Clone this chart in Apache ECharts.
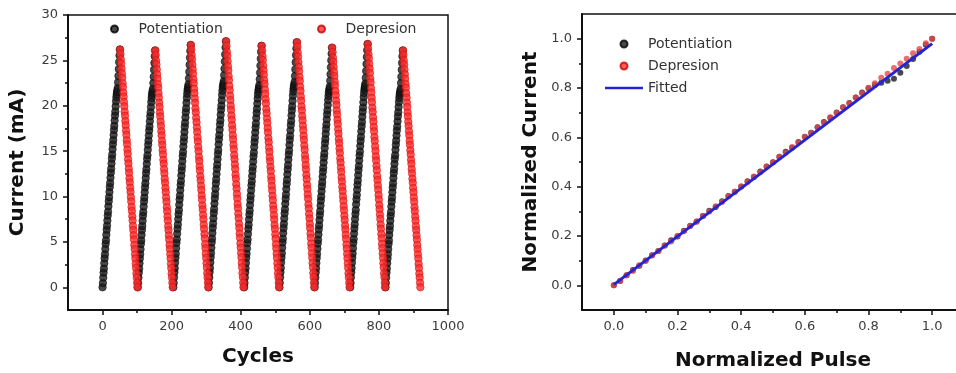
<!DOCTYPE html>
<html>
<head>
<meta charset="utf-8">
<script src="https://cdn.jsdelivr.net/npm/echarts@6/dist/echarts.min.js"></script>
<style>
  html, body { margin: 0; padding: 0; background: #fff; }
  #chart { width: 956px; height: 373px; }
</style>
</head>
<body>
<div id="chart"></div>
<script>
// first cycle of each potentiation ramp
const cycleStarts = [0, 102, 205, 307, 410, 512, 614, 717, 819];
// peak current (mA) reached in each cycle
const peakCurrent = [26.2, 26.1, 26.7, 27.1, 26.6, 27.0, 26.4, 26.8, 26.1];

// normalized current per pulse, potentiation (rising) and depression (falling)
const potProfile = [
  0, 0.018, 0.041, 0.062, 0.079, 0.101, 0.122, 0.139, 0.161, 0.183,
  0.198, 0.221, 0.242, 0.259, 0.281, 0.302, 0.318, 0.341, 0.362, 0.379,
  0.401, 0.422, 0.439, 0.461, 0.482, 0.499, 0.521, 0.542, 0.558, 0.581,
  0.602, 0.619, 0.641, 0.662, 0.679, 0.701, 0.722, 0.739, 0.761, 0.782,
  0.799, 0.812, 0.821, 0.829, 0.838, 0.862, 0.889, 0.918, 0.947, 0.975, 1.0
];
const depProfile = [
  1.0, 0.981, 0.958, 0.941, 0.919, 0.899, 0.881, 0.858, 0.842, 0.819,
  0.801, 0.779, 0.761, 0.738, 0.721, 0.699, 0.681, 0.659, 0.641, 0.618,
  0.601, 0.579, 0.561, 0.538, 0.521, 0.499, 0.481, 0.458, 0.441, 0.419,
  0.401, 0.379, 0.361, 0.338, 0.321, 0.299, 0.281, 0.258, 0.241, 0.219,
  0.201, 0.178, 0.161, 0.139, 0.121, 0.099, 0.081, 0.058, 0.041, 0.019, 0
];

const fitPulse = [0, 1];
const fitCurrent = [0.003, 0.98];

const cycleTicks = [0, 200, 400, 600, 800, 1000];
const cycleMinor = [100, 300, 500, 700, 900];
const currentTicks = [0, 5, 10, 15, 20, 25, 30];
const currentMinor = [2.5, 7.5, 12.5, 17.5, 22.5, 27.5];
const normTicks = [0, 0.2, 0.4, 0.6, 0.8, 1.0];
const normMinor = [0.1, 0.3, 0.5, 0.7, 0.9];

const potLeft = [];
const depLeft = [];
cycleStarts.forEach((s, c) => {
  potProfile.forEach((v, k) => potLeft.push([s + k, +(v * peakCurrent[c]).toFixed(2)]));
  depProfile.forEach((v, k) => depLeft.push([s + 51 + k, +(v * peakCurrent[c]).toFixed(2)]));
});
const steps = potProfile.length - 1;
const potRight = potProfile.map((v, k) => [k / steps, v]);
const depRight = depProfile.map((v, k) => [1 - k / steps, v]);
const fitted = fitPulse.map((x, i) => [x, fitCurrent[i]]);

const ink = '#111';
const fitBlue = '#2424d4';
const labelStyle = {color: '#3c3c3c', fontFamily: 'DejaVu Sans', fontSize: 13};
const nameStyle = {color: ink, fontFamily: 'DejaVu Sans', fontSize: 20, fontWeight: 'bold'};
const legendText = {color: '#333', fontFamily: 'DejaVu Sans', fontSize: 14};

function mainAxis(gridIndex, min, max, ticks, fmt, extra) {
  return Object.assign({
    type: 'value',
    gridIndex,
    min,
    max,
    axisLine: {show: true, onZero: false, lineStyle: {color: ink, width: 2}},
    axisTick: {show: true, customValues: ticks, length: 5, lineStyle: {color: ink, width: 1.5}},
    axisLabel: Object.assign({customValues: ticks, formatter: fmt, margin: 10}, labelStyle),
    splitLine: {show: false},
    nameLocation: 'middle',
    nameTextStyle: nameStyle,
  }, extra);
}

function minorAxis(gridIndex, min, max, ticks, position) {
  return {
    type: 'value',
    gridIndex,
    position,
    min,
    max,
    axisLine: {show: false, onZero: false},
    axisTick: {show: true, customValues: ticks, length: 3, lineStyle: {color: ink, width: 1.5}},
    axisLabel: {show: false},
    splitLine: {show: false},
  };
}

const fmt1 = (v) => v.toFixed(1);
const fmt0 = (v) => String(v);

const chart = echarts.init(document.getElementById('chart'));

const option = {
  animation: false,
  backgroundColor: '#fff',
  grid: [
    {left: 68, top: 15, width: 380, height: 295, show: true, borderColor: ink, borderWidth: 1.5, outerBoundsMode: 'none'},
    {left: 582, top: 14, width: 382, height: 296, show: true, borderColor: ink, borderWidth: 1.5, outerBoundsMode: 'none'},
  ],
  legend: [
    {left: 110, top: 22, padding: 0, itemWidth: 38, itemHeight: 7, data: ['Potentiation'], textStyle: legendText},
    {left: 317, top: 22, padding: 0, itemWidth: 38, itemHeight: 7, data: ['Depresion'], textStyle: legendText},
    {left: 605, top: 37, padding: 0, orient: 'vertical', itemGap: 8, itemWidth: 38, itemHeight: 7,
      data: ['Potentiation', 'Depresion', {name: 'Fitted', icon: 'path://M0,0L38,0L38,2.5L0,2.5Z'}],
      textStyle: legendText},
  ],
  xAxis: [
    mainAxis(0, -100, 1000, cycleTicks, fmt0, {position: 'bottom', name: 'Cycles', nameGap: 37}),
    minorAxis(0, -100, 1000, cycleMinor, 'bottom'),
    mainAxis(1, -0.1, 1.1, normTicks, fmt1, {position: 'bottom', name: 'Normalized Pulse', nameGap: 41}),
    minorAxis(1, -0.1, 1.1, normMinor, 'bottom'),
  ],
  yAxis: [
    mainAxis(0, -2.5, 30, currentTicks, fmt0, {position: 'left', name: 'Current (mA)', nameGap: 40}),
    minorAxis(0, -2.5, 30, currentMinor, 'left'),
    mainAxis(1, -0.1, 1.1, normTicks, fmt1, {position: 'left', name: 'Normalized Current', nameGap: 41}),
    minorAxis(1, -0.1, 1.1, normMinor, 'left'),
  ],
  series: [
    {
      name: 'Potentiation',
      type: 'scatter',
      xAxisIndex: 0,
      yAxisIndex: 0,
      symbolSize: 7.5,
      itemStyle: {color: '#1c1c1c', borderColor: '#000', borderWidth: 0.6},
      data: potLeft,
    },
    {
      name: 'Depresion',
      type: 'scatter',
      xAxisIndex: 0,
      yAxisIndex: 0,
      symbolSize: 7.5,
      itemStyle: {color: '#ff2e2e', borderColor: '#c80000', borderWidth: 0.6},
      data: depLeft,
    },
    {
      name: 'Potentiation',
      type: 'scatter',
      xAxisIndex: 2,
      yAxisIndex: 2,
      symbolSize: 6,
      itemStyle: {color: '#1c1c1c'},
      data: potRight,
    },
    {
      name: 'Depresion',
      type: 'scatter',
      xAxisIndex: 2,
      yAxisIndex: 2,
      symbolSize: 6,
      itemStyle: {color: '#e84848'},
      data: depRight,
    },
    {
      name: 'Fitted',
      type: 'line',
      xAxisIndex: 2,
      yAxisIndex: 2,
      symbol: 'none',
      showSymbol: false,
      itemStyle: {color: fitBlue},
      lineStyle: {color: fitBlue, width: 3},
      data: fitted,
    },
  ],
};

chart.setOption(option);
</script>
</body>
</html>
